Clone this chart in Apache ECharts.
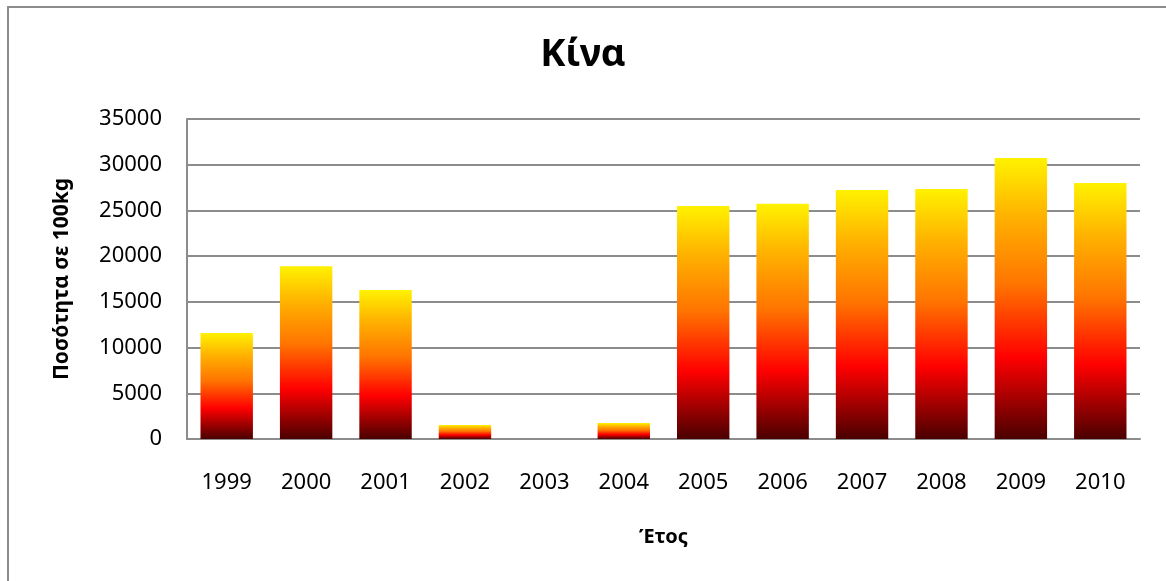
<!DOCTYPE html>
<html>
<head>
<meta charset="utf-8">
<script src="https://cdn.jsdelivr.net/npm/echarts@6/dist/echarts.min.js"></script>
<style>
  html, body { margin: 0; padding: 0; background: #fff; }
  #chart { width: 1166px; height: 581px; }
</style>
</head>
<body>
<div id="chart"></div>
<script>
// δεδομένα
var years = ['1999', '2000', '2001', '2002', '2003', '2004', '2005', '2006', '2007', '2008', '2009', '2010'];
var quantities = [11600, 18900, 16300, 1530, 0, 1750, 25480, 25740, 27230, 27340, 30730, 28000];
var yTicks = [0, 5000, 10000, 15000, 20000, 25000, 30000, 35000];

var chart = echarts.init(document.getElementById('chart'));

var barColor = new echarts.graphic.LinearGradient(0, 0, 0, 1, [
  { offset: 0, color: '#fff200' },
  { offset: 0.2, color: '#ffb400' },
  { offset: 0.45, color: '#ff7400' },
  { offset: 0.71, color: '#ff0000' },
  { offset: 1, color: '#4a0000' }
]);

var option = {
  backgroundColor: '#fff',
  textStyle: { fontFamily: 'Noto Sans' },
  graphic: [{
    type: 'rect',
    shape: { x: 8, y: 7, width: 1200, height: 620 },
    style: { fill: 'none', stroke: '#8c8c8c', lineWidth: 2 },
    silent: true
  }],
  title: {
    text: 'Κίνα',
    left: 'center',
    top: 31,
    textStyle: { fontSize: 38, fontWeight: 'bold', color: '#000', fontFamily: 'Noto Sans' }
  },
  grid: { //θέση περιοχής σχεδίασης
    left: 187,
    right: 26,
    top: 119,
    bottom: 142
  },
  xAxis: {
    type: 'category',
    data: years,
    name: 'Έτος',
    nameLocation: 'middle',
    nameGap: 88,
    nameTextStyle: { fontSize: 20, fontWeight: 'bold', color: '#000' },
    axisLine: { lineStyle: { color: '#8c8c8c', width: 2 } },
    axisTick: { show: false },
    axisLabel: { fontSize: 22, color: '#000', margin: 33 }
  },
  yAxis: {
    type: 'value',
    min: 0,
    max: 35000,
    interval: 5000,
    name: 'Ποσότητα σε 100kg',
    nameLocation: 'middle',
    nameGap: 114,
    nameTextStyle: { fontSize: 21, fontWeight: 'bold', color: '#000' },
    axisLine: { show: true, lineStyle: { color: '#8c8c8c', width: 2 } },
    axisTick: { show: false },
    axisLabel: {
      fontSize: 22,
      color: '#000',
      margin: 25,
      formatter: function (v) { return yTicks.indexOf(v) >= 0 ? String(v) : ''; }
    },
    splitLine: { lineStyle: { color: '#8c8c8c', width: 2 } }
  },
  series: [{
    type: 'bar',
    data: quantities,
    barCategoryGap: '34%',
    itemStyle: {
      color: barColor,
      shadowColor: 'rgba(0,0,0,0.25)',
      shadowBlur: 4,
      shadowOffsetX: 1,
      shadowOffsetY: 1
    }
  }]
};

chart.setOption(option);
window.addEventListener('resize', function () {
  chart.resize();
});
</script>
</body>
</html>
